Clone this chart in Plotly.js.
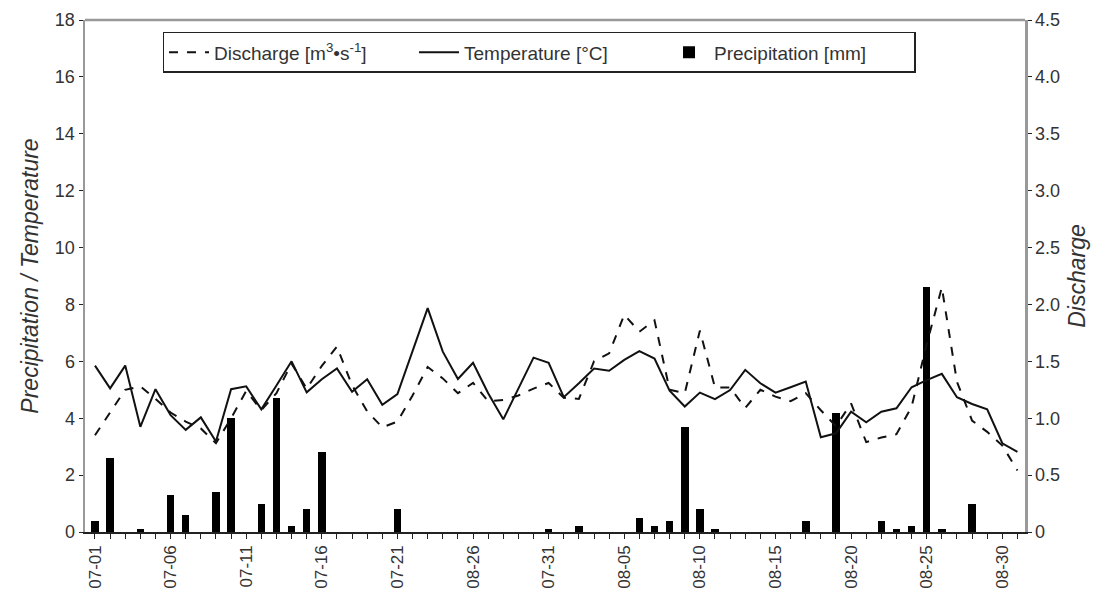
<!DOCTYPE html>
<html>
<head>
<meta charset="utf-8">
<script src="https://cdn.plot.ly/plotly-3.0.1.min.js"></script>
<style>html,body{margin:0;padding:0;background:#fff;}#chart{width:1114px;height:598px;}</style>
</head>
<body>
<div id="chart"></div>
<script>
// Day index 0 = 07-01 ... 61 = 08-31
const days = Array.from({length: 62}, (_, i) => i);

const tickPositions = [0, 5, 10, 15, 20, 25, 30, 35, 40, 45, 50, 55, 60];
const tickLabels = ["07-01","07-06","07-11","07-16","07-21","08-26","07-31","08-05","08-10","08-15","08-20","08-25","08-30"];

const precipitation = [
  0.4, 2.6, 0, 0.1, 0, 1.3, 0.6, 0, 1.4, 4.0,
  0, 1.0, 4.7, 0.2, 0.8, 2.8, 0, 0, 0, 0,
  0.8, 0, 0, 0, 0, 0, 0, 0, 0, 0,
  0.1, 0, 0.2, 0, 0, 0, 0.5, 0.2, 0.4, 3.7,
  0.8, 0.1, 0, 0, 0, 0, 0, 0.4, 0, 4.2,
  0, 0, 0.4, 0.1, 0.2, 8.6, 0.1, 0, 1.0, 0,
  0, 0
];

const temperature = [
  5.85, 5.05, 5.85, 3.7, 5.02, 4.11, 3.59, 4.03, 3.18, 5.02,
  5.12, 4.31, 5.15, 6.0, 4.91, 5.37, 5.75, 4.93, 5.37, 4.47,
  4.85, 6.35, 7.87, 6.34, 5.38, 5.95, 4.88, 3.96, 5.05, 6.13,
  5.95, 4.74, 5.23, 5.75, 5.67, 6.05, 6.36, 6.1, 4.97, 4.41,
  4.9, 4.67, 4.99, 5.7, 5.23, 4.9, 5.09, 5.29, 3.33, 3.47,
  4.23, 3.86, 4.23, 4.35, 5.09, 5.34, 5.56, 4.74, 4.5, 4.31,
  3.12, 2.82
];

const discharge = [
  0.85, 1.05, 1.25, 1.28, 1.17, 1.05, 0.97, 0.91, 0.78, 1.0,
  1.24, 1.07, 1.22, 1.48, 1.26, 1.46, 1.63, 1.29, 1.06, 0.92,
  0.97, 1.2, 1.45, 1.35, 1.22, 1.31, 1.15, 1.16, 1.2, 1.26,
  1.31, 1.18, 1.17, 1.5, 1.57, 1.91, 1.76, 1.86, 1.25, 1.22,
  1.77, 1.27, 1.27, 1.09, 1.25, 1.19, 1.15, 1.22, 1.07, 0.93,
  1.13, 0.79, 0.83, 0.86, 1.1, 1.65, 2.15, 1.32, 0.98, 0.88,
  0.76, 0.54
];

const rightTickVals = [0, 0.5, 1.0, 1.5, 2.0, 2.5, 3.0, 3.5, 4.0, 4.5];
const rightTickText = ["0", "0.5", "1.0", "1.5", "2.0", "2.5", "3.0", "3.5", "4.0", "4.5"];

const allTickText = days.map(d => {
  const k = tickPositions.indexOf(d);
  return k >= 0 ? tickLabels[k] : "";
});

const font = "Liberation Sans, Arial, sans-serif";
const txt = "#333";

const traces = [
  {
    type: "scatter", mode: "lines", x: days, y: discharge, yaxis: "y2",
    name: "Discharge [m<sup>3</sup>•s<sup>-1</sup>]",
    line: {color: "#111", width: 2, dash: "dash"}
  },
  {
    type: "scatter", mode: "lines", x: days, y: temperature,
    name: "Temperature [°C]",
    line: {color: "#111", width: 2}
  },
  {
    type: "bar", x: days, y: precipitation,
    name: "Precipitation [mm]",
    width: 0.5,
    marker: {color: "#000", line: {width: 0}}
  }
];

const layout = {
  width: 1114, height: 598,
  margin: {l: 85, r: 89, t: 20, b: 66},
  paper_bgcolor: "#fff", plot_bgcolor: "#fff",
  font: {family: font, size: 17, color: txt},
  showlegend: true,
  legend: {
    orientation: "h", x: 0.483, xanchor: "center", y: 0.977, yanchor: "top",
    bordercolor: "#222", borderwidth: 1.5, bgcolor: "#fff",
    font: {family: font, size: 19, color: txt},
    traceorder: "normal", entrywidth: 195, itemwidth: 40
  },
  bargap: 0,
  xaxis: {
    range: [-0.66, 61.5],
    tickmode: "array", tickvals: days, ticktext: allTickText,
    tickangle: -90, ticks: "outside", ticklen: 5, tickwidth: 1, tickcolor: "#222",
    showline: true, linecolor: "#222", linewidth: 1.5,
    mirror: false, showgrid: false, zeroline: false,
    tickfont: {family: font, size: 17, color: txt}
  },
  yaxis: {
    range: [0, 18], dtick: 2, tick0: 0,
    ticks: "outside", ticklen: 4, tickwidth: 1, tickcolor: "#222",
    showline: true, linecolor: "#999", linewidth: 2.5,
    showgrid: false, zeroline: false,
    tickfont: {family: font, size: 18, color: txt},
    title: {text: "<i>Precipitation / Temperature</i>", font: {family: font, size: 23, color: txt}, standoff: 10}
  },
  yaxis2: {
    range: [0, 4.5], overlaying: "y", side: "right",
    tickmode: "array", tickvals: rightTickVals, ticktext: rightTickText,
    ticks: "outside", ticklen: 4, tickwidth: 1, tickcolor: "#222",
    showline: true, linecolor: "#999", linewidth: 2.5,
    showgrid: false, zeroline: false,
    tickfont: {family: font, size: 18, color: txt},
    title: {text: "<i>Discharge</i>", font: {family: font, size: 23, color: txt}, standoff: 10}
  },
  shapes: [
    {type: "line", xref: "paper", yref: "paper", x0: 0, x1: 1, y0: 1, y1: 1, line: {color: "#999", width: 2.5}}
  ]
};

Plotly.newPlot("chart", traces, layout, {displayModeBar: false, staticPlot: true});
</script>
</body>
</html>
